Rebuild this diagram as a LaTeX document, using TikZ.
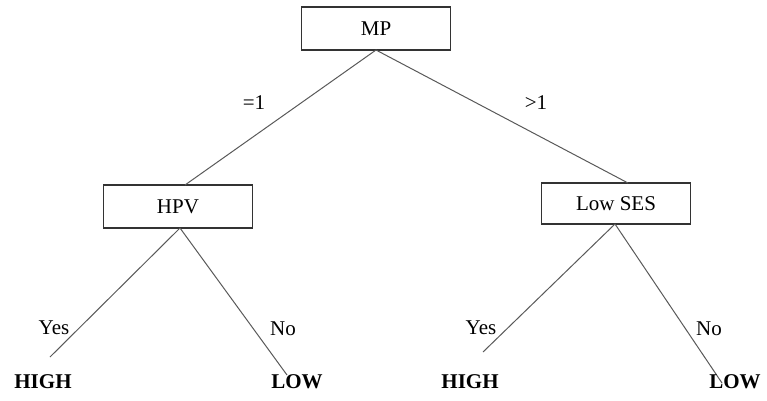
\documentclass[tikz,border=0pt]{standalone}
\usepackage{fontspec}
\setmainfont{Liberation Serif}
\begin{document}
\begin{tikzpicture}[x=1pt,y=-1pt,
  box/.style={draw=black!80,line width=1.3pt,minimum width=149pt,minimum height=43pt,inner sep=0pt,font=\fontsize{21}{25}\selectfont},
  lbl/.style={inner sep=0pt,font=\fontsize{21}{25}\selectfont},
  leaf/.style={inner sep=0pt,font=\fontsize{21}{25}\selectfont\bfseries},
  edge/.style={draw=black!65,line width=1pt}]
\useasboundingbox (0,0) rectangle (767,400);
\node[box] (mp) at (376,28.5) {MP};
\node[box] (hpv) at (178,206.5) {HPV};
\node[box,minimum height=41pt] (ses) at (616,203.5) {Low SES};
\coordinate (mpb) at (376,50);
\coordinate (hpvt) at (185,185);
\coordinate (sest) at (628,183);
\coordinate (hpvb) at (180,228);
\coordinate (sesb) at (615,224);
\coordinate (e1) at (50,357);
\coordinate (e2) at (287,375);
\coordinate (e3) at (483,352);
\coordinate (e4) at (722,383);
\draw[edge] (mpb) -- (hpvt);
\draw[edge] (mpb) -- (sest);
\draw[edge] (hpvb) -- (e1);
\draw[edge] (hpvb) -- (e2);
\draw[edge] (sesb) -- (e3);
\draw[edge] (sesb) -- (e4);
\node[lbl] (l1) at (254,103) {=1};
\node[lbl] (l2) at (536,103) {>1};
\node[lbl] (y1) at (54,328) {Yes};
\node[lbl] (n1) at (283,329) {No};
\node[lbl] (y2) at (481,328) {Yes};
\node[lbl] (n2) at (709,329) {No};
\node[leaf] (h1) at (43,382) {HIGH};
\node[leaf] (lo1) at (297,382) {LOW};
\node[leaf] (h2) at (470,382) {HIGH};
\node[leaf] (lo2) at (735,382) {LOW};
\end{tikzpicture}
\end{document}
